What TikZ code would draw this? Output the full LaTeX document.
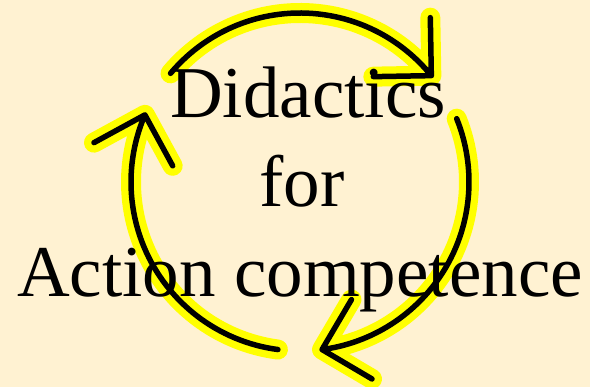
\documentclass[tikz,border=0pt]{standalone}
\usepackage{fontspec}
\setmainfont{Liberation Serif}
\definecolor{cream}{RGB}{255,242,210}
\definecolor{glowyellow}{RGB}{255,255,0}
\begin{document}
\begin{tikzpicture}[x=1pt, y=1pt,
  glow/.style={line width=20pt, glowyellow, line cap=round, line join=round},
  stroke/.style={line width=5.5pt, black, line cap=round, line join=round},
  caption/.style={font=\fontsize{73}{89}\selectfont, inner sep=0pt, anchor=base}]
\fill[cream] (-300,-205) rectangle (290,182);
\useasboundingbox (-300,-205) rectangle (290,182);
% three arcs, yellow glow first and the black line over it
\foreach \sty in {glow, stroke} {
  \foreach \s/\e in {140/39, 22/-82.5, -97.5/-203.4} {
    \draw[\sty] (\s:169) arc[start angle=\s, end angle=\e, radius=169]
      (\e:169) ++(\e+52:58) -- (\e:169) -- ++(\e+142:58);
  }
}
\node[caption] (didactics) at (8,64) {Didactics};
\node[caption] (for) at (2,-25) {for};
\node[caption] (action) at (0,-115) {Action competence};
\end{tikzpicture}
\end{document}
